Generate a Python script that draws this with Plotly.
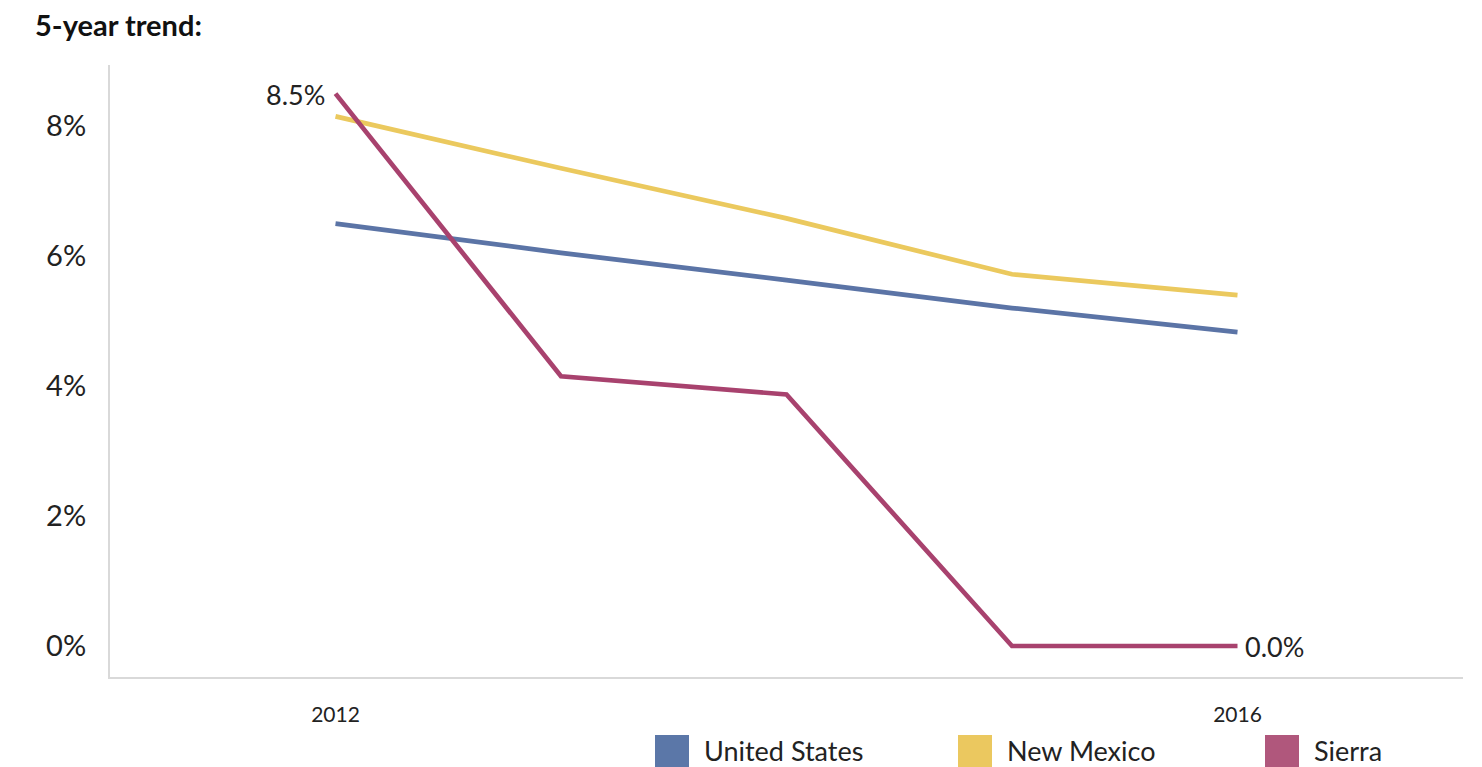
import plotly.graph_objects as go

years = [2012, 2013, 2014, 2015, 2016]
us = [6.5, 6.05, 5.63, 5.2, 4.83]
nm = [8.15, 7.35, 6.58, 5.72, 5.4]
sierra = [8.5, 4.15, 3.87, 0.0, 0.0]
series_names = ["United States", "New Mexico", "Sierra"]
line_colors = ["#5b74a6", "#ebc95e", "#a8426e"]
legend_colors = ["#5b77a8", "#ebc85f", "#b0577c"]
ytick_vals = [0, 2, 4, 6, 8]
ytick_text = ["0%", "2%", "4%", "6%", "8%"]
xtick_vals = [2012, 2016]
xtick_text = ["2012", "2016"]

FONT = "Lato"
TXT = "#222222"
W, H = 1482, 767
OFF = 8  # page body margin
# plot area in screen pixels
PL, PR, PT, PB = 110, 1463, 65, 677
ml, mt = PL - OFF, PT - OFF
mr = W - ml - (PR - PL)
mb = H - mt - (PB - PT)


def px(sx):
    return (sx - PL) / (PR - PL)


def py(sy):
    return (PB - sy) / (PB - PT)


fig = go.Figure()
for name, vals, col in zip(series_names, [us, nm, sierra], line_colors):
    fig.add_trace(go.Scatter(x=years, y=vals, mode="lines", name=name,
                             line=dict(color=col, width=4.7), showlegend=False))

fig.add_annotation(x=years[0], y=sierra[0], text=f"{sierra[0]:.1f}%", showarrow=False,
                   xanchor="right", yanchor="middle", xshift=-9, yshift=-1,
                   font=dict(size=27, family=FONT, color=TXT))
fig.add_annotation(x=years[-1], y=sierra[-1], text=f"{sierra[-1]:.1f}%", showarrow=False,
                   xanchor="left", yanchor="middle", xshift=5,
                   font=dict(size=27, family=FONT, color=TXT))

fig.update_layout(
    width=W, height=H,
    margin=dict(l=ml, r=mr, t=mt, b=mb),
    paper_bgcolor="white", plot_bgcolor="white",
    font=dict(family=FONT, color=TXT),
    title=dict(text="<b>5-year trend:</b>", x=(35 - OFF) / W, xanchor="left",
               y=1 - (26 - OFF) / H, yanchor="middle", xref="container", yref="container",
               font=dict(size=29, color="#111111", family=FONT)),
    xaxis=dict(range=[2011, 2017], tickvals=xtick_vals, ticktext=xtick_text,
               showgrid=False, zeroline=False, showline=True, linecolor="#d9d9d9",
               linewidth=2, ticks="", ticklabelstandoff=18,
               tickfont=dict(size=21, family=FONT, color=TXT)),
    yaxis=dict(range=[-0.477, 8.94], tickvals=ytick_vals, ticktext=ytick_text,
               showgrid=False, zeroline=False, showline=True, linecolor="#d9d9d9",
               linewidth=2, ticks="", ticklabelstandoff=16,
               tickfont=dict(size=29, family=FONT, color=TXT)),
)

# manual legend (squares + labels) below the plot, positions in screen px
leg_x = [655, 958, 1265]
for name, col, x0 in zip(series_names, legend_colors, leg_x):
    fig.add_shape(type="rect", xref="paper", yref="paper",
                  x0=px(x0), x1=px(x0 + 34), y0=py(735), y1=py(785),
                  fillcolor=col, line=dict(width=0))
    fig.add_annotation(xref="paper", yref="paper", x=px(x0 + 47), y=py(750),
                       xanchor="left", yanchor="middle", text=name, showarrow=False,
                       font=dict(size=27, family=FONT, color=TXT))

fig.write_html("out.html")
